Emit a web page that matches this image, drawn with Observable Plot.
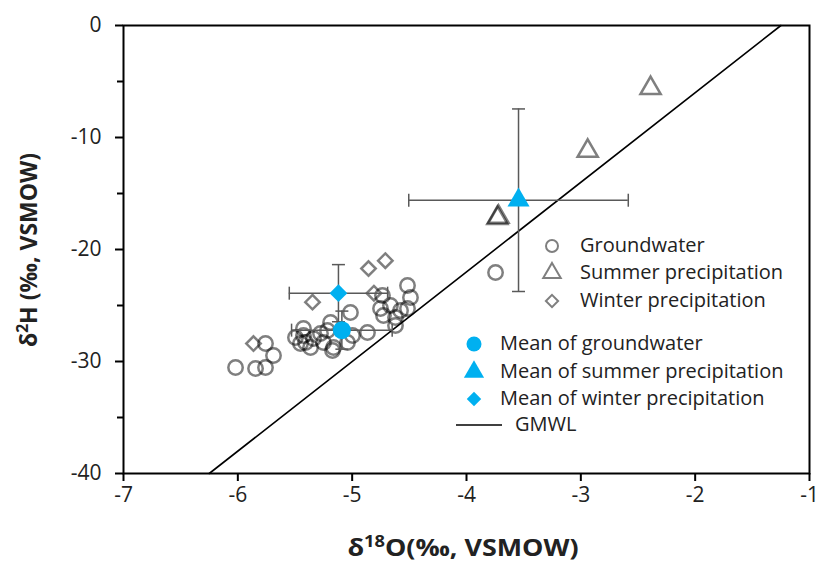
<!DOCTYPE html>
<html><head><meta charset="utf-8">
<script src="https://cdn.jsdelivr.net/npm/d3@7"></script>
<script src="https://cdn.jsdelivr.net/npm/@observablehq/plot@0.6"></script>
<style>
body{margin:0;background:#fff;font-family:"Open Sans",sans-serif;}
#wrap{position:relative;width:822px;height:563px;}
#wrap > svg text{font-size:21px;}
.leg{position:absolute;font-size:20px;color:#222;white-space:nowrap;line-height:24px;}
.legsym{position:absolute;}
.axt{position:absolute;font-size:23px;font-weight:700;color:#222;white-space:nowrap;text-align:center;line-height:30px;height:30px;}
.axt sup{font-size:0.68em;vertical-align:0.55em;line-height:0;}
</style></head><body><div id="wrap"></div>
<script>
// Groundwater samples (δ18O, δ2H)
const gwX = [-6.02,-5.845,-5.758,-5.758,-5.688,-5.496,-5.426,-5.408,-5.364,-5.452,-5.338,-5.277,-5.251,-5.189,-5.163,-5.216,-5.015,-4.997,-5.041,-4.866,-4.735,-4.752,-4.726,-4.665,-4.621,-4.577,-4.516,-4.490,-4.516,-4.621,-3.746,-5.426,-5.172];
const gwY = [-30.54,-30.63,-30.54,-28.39,-29.46,-27.86,-27.68,-28.30,-28.75,-28.39,-27.95,-27.50,-28.30,-26.52,-28.75,-27.23,-25.63,-27.68,-28.30,-27.41,-24.11,-25.27,-25.89,-25.00,-26.07,-25.45,-23.21,-24.29,-25.27,-26.79,-22.05,-27.05,-29.02];
// Summer precipitation
const summerX = [-2.39,-2.94,-3.72,-3.73];
const summerY = [-5.6,-11.2,-17.1,-17.2];
// Winter precipitation
const winterX = [-4.71,-4.857,-4.81,-5.347,-5.863];
const winterY = [-21.0,-21.7,-23.9,-24.7,-28.4];
// Means with standard deviations
const meanKeys = ["groundwater","summer","winter"];
const meanX = [-5.09,-3.545,-5.12];
const meanY = [-27.2,-15.6,-23.9];
const meanXErr = [0.44,0.96,0.43];
const meanYErr = [1.7,8.15,2.55];
// GMWL: δ2H = 8·δ18O + 10
const gmwlX = [-6.25,-1.25];
const gmwlSlope = 8, gmwlIntercept = 10;
// Ticks
const xTicks = [-7,-6,-5,-4,-3,-2,-1];
const yTicks = [0,-10,-20,-30,-40];
const yMinorTicks = [-5,-15,-25,-35];
const legendLabels = ["Groundwater","Summer precipitation","Winter precipitation","Mean of groundwater","Mean of summer precipitation","Mean of winter precipitation","GMWL"];

const gw = gwX.map((x,i)=>({x, y: gwY[i]}));
const summer = summerX.map((x,i)=>({x, y: summerY[i]}));
const winter = winterX.map((x,i)=>({x, y: winterY[i]}));
const means = meanKeys.map((k,i)=>({k, x: meanX[i], y: meanY[i], xe: meanXErr[i], ye: meanYErr[i]}));
const gmwl = gmwlX.map(x=>({x, y: gmwlSlope*x + gmwlIntercept}));

const vCap = {draw(ctx, size){ const r = Math.sqrt(size/Math.PI); ctx.moveTo(0,-r); ctx.lineTo(0,r);}};
const hCap = {draw(ctx, size){ const r = Math.sqrt(size/Math.PI); ctx.moveTo(-r,0); ctx.lineTo(r,0);}};
const blue = "#00B0F0";
const errColor = "#595959";
const openGray = {fill: "none", stroke: "black", strokeOpacity: 0.5, strokeWidth: 2.5};

const caps = means.flatMap(d => [
  {x: d.x - d.xe, y: d.y, dir: "v"}, {x: d.x + d.xe, y: d.y, dir: "v"},
  {x: d.x, y: d.y - d.ye, dir: "h"}, {x: d.x, y: d.y + d.ye, dir: "h"}
]);

const chart = Plot.plot({
  width: 822, height: 563,
  marginLeft: 123, marginRight: 13, marginTop: 25, marginBottom: 90,
  x: {domain: [-7, -1]},
  y: {domain: [-40, 0]},
  style: {fontSize: "21px", fontFamily: "Open Sans", color: "#222", background: "white"},
  marks: [
    Plot.line(gmwl, {x: "x", y: "y", stroke: "black", strokeWidth: 1.6}),
    Plot.dot(gw, {x: "x", y: "y", r: 7.2, symbol: "circle", ...openGray}),
    Plot.dot(winter, {x: "x", y: "y", r: 6.5, symbol: "diamond2", ...openGray}),
    Plot.dot(summer, {x: "x", y: "y", r: 7.5, symbol: "triangle", ...openGray}),
    Plot.ruleY(means, {y: "y", x1: d => d.x - d.xe, x2: d => d.x + d.xe, stroke: errColor, strokeWidth: 1.5}),
    Plot.ruleX(means, {x: "x", y1: d => d.y - d.ye, y2: d => d.y + d.ye, stroke: errColor, strokeWidth: 1.5}),
    Plot.dot(caps.filter(d => d.dir === "v"), {x: "x", y: "y", symbol: vCap, r: 6.5, stroke: errColor, strokeWidth: 1.5, fill: "none"}),
    Plot.dot(caps.filter(d => d.dir === "h"), {x: "x", y: "y", symbol: hCap, r: 6.5, stroke: errColor, strokeWidth: 1.5, fill: "none"}),
    Plot.dot(means.filter(d => d.k === "groundwater"), {x: "x", y: "y", r: 9, symbol: "circle", fill: blue}),
    Plot.dot(means.filter(d => d.k === "summer"), {x: "x", y: "y", r: 8.2, symbol: "triangle", fill: blue}),
    Plot.dot(means.filter(d => d.k === "winter"), {x: "x", y: "y", r: 8, symbol: "diamond2", fill: blue}),
    Plot.frame({stroke: "black", strokeWidth: 2}),
    Plot.axisX({ticks: xTicks, tickSize: 8, tickPadding: 6, tickFormat: d => String(d), label: null, fontSize: 21, stroke: "black", strokeWidth: 2}),
    Plot.axisY({ticks: yTicks, tickSize: 8, tickPadding: 14, tickFormat: d => String(d), label: null, fontSize: 21, stroke: "black", strokeWidth: 2}),
    Plot.axisY({ticks: yMinorTicks, tickSize: 6, tickFormat: () => "", label: null, stroke: "black", strokeWidth: 2})
  ]
});
const wrap = document.getElementById("wrap");
wrap.appendChild(chart);

// Axis titles (HTML, with real superscripts)
const xt = document.createElement("div");
xt.className = "axt";
xt.innerHTML = "δ<sup>18</sup>O(‰, VSMOW)";
xt.style.left = "263px"; xt.style.width = "400px"; xt.style.top = "532px";
xt.style.fontSize = "24px"; xt.style.transform = "scaleX(1.12)";
wrap.appendChild(xt);
const yt = document.createElement("div");
yt.className = "axt";
yt.innerHTML = "δ<sup>2</sup>H (‰, VSMOW)";
yt.style.width = "300px"; yt.style.left = (28 - 150) + "px"; yt.style.top = (250 - 15) + "px";
yt.style.transform = "rotate(-90deg)";
wrap.appendChild(yt);

// Legend (HTML overlay)
const legendItems = [
  {type: d3.symbolCircle, r: 6, open: true, sx: 552, y: 246, tx: 580},
  {type: d3.symbolTriangle, r: 6.5, open: true, sx: 552, y: 273, tx: 580},
  {type: d3.symbolDiamond2, r: 5.5, open: true, sx: 552, y: 301, tx: 580},
  {type: d3.symbolCircle, r: 7.5, open: false, sx: 474, y: 344, tx: 500},
  {type: d3.symbolTriangle, r: 7.5, open: false, sx: 474, y: 372, tx: 500},
  {type: d3.symbolDiamond2, r: 6.5, open: false, sx: 474, y: 399, tx: 500},
  {line: true, sx: 479, y: 425, tx: 515}
];
legendItems.forEach((it, i) => {
  const s = document.createElementNS("http://www.w3.org/2000/svg", "svg");
  s.setAttribute("width", 50); s.setAttribute("height", 24);
  s.setAttribute("class", "legsym");
  s.style.left = (it.sx - 25) + "px"; s.style.top = (it.y - 12) + "px";
  if (it.line) {
    const l = document.createElementNS("http://www.w3.org/2000/svg", "line");
    l.setAttribute("x1", 2); l.setAttribute("x2", 48); l.setAttribute("y1", 12); l.setAttribute("y2", 12);
    l.setAttribute("stroke", "black"); l.setAttribute("stroke-width", 1.6);
    s.appendChild(l);
  } else {
    const p = document.createElementNS("http://www.w3.org/2000/svg", "path");
    p.setAttribute("d", d3.symbol(it.type, Math.PI * it.r * it.r)());
    p.setAttribute("transform", "translate(25,12)");
    if (it.open) { p.setAttribute("fill", "none"); p.setAttribute("stroke", "black"); p.setAttribute("stroke-opacity", 0.5); p.setAttribute("stroke-width", 2); }
    else p.setAttribute("fill", blue);
    s.appendChild(p);
  }
  wrap.appendChild(s);
  const t = document.createElement("div");
  t.className = "leg"; t.textContent = legendLabels[i];
  t.style.left = it.tx + "px"; t.style.top = (it.y - 13) + "px";
  wrap.appendChild(t);
});
</script></body></html>
